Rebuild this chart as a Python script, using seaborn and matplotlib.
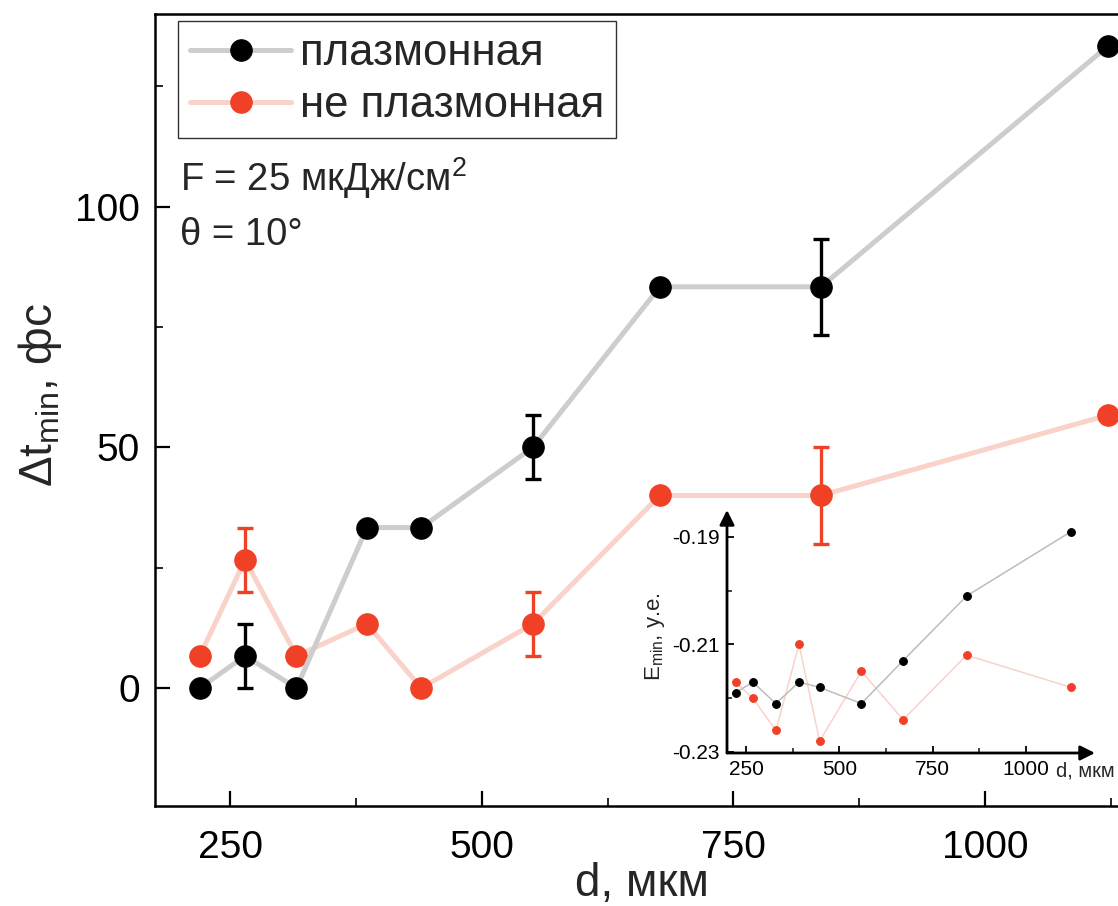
import matplotlib
matplotlib.use("Agg")
import matplotlib.pyplot as plt
from matplotlib.ticker import MultipleLocator
import seaborn as sns
import pandas as pd

# --- main panel: minimum delay vs thickness ---
d_main = [220, 265, 316, 386, 440, 551, 677, 837, 1122]
dt_plasmon = [0.0, 6.67, 0.0, 33.33, 33.33, 50.0, 83.33, 83.33, 133.33]
dt_nonplasmon = [6.67, 26.67, 6.67, 13.33, 0.0, 13.33, 40.0, 40.0, 56.67]

# error bars (only some points carry them)
err_d = [265, 551, 837]
err_plasmon_y = [6.67, 50.0, 83.33]
err_plasmon = [6.67, 6.67, 10.0]
err_nonplasmon_y = [26.67, 13.33, 40.0]
err_nonplasmon = [6.67, 6.67, 10.0]

# --- inset: minimum field vs thickness ---
d_inset = [222, 268, 330, 392, 447, 559, 671, 841, 1121]
e_plasmon = [-0.2190, -0.2170, -0.2210, -0.2170, -0.2180, -0.2210, -0.2130, -0.2010, -0.1890]
e_nonplasmon = [-0.2170, -0.2200, -0.2260, -0.2100, -0.2280, -0.2150, -0.2240, -0.2120, -0.2180]

labels = ["плазмонная", "не плазмонная"]

sns.set_theme(style="ticks")
plt.rcParams["font.family"] = ["Liberation Sans", "DejaVu Sans"]
plt.rcParams["mathtext.fontset"] = "custom"
plt.rcParams["mathtext.rm"] = "Liberation Sans"
plt.rcParams["mathtext.it"] = "Liberation Sans:italic"

BLACK = "#000000"
GREY_LINE = "#cdcdcd"
RED = "#f04026"
PINK_LINE = "#f9d3ca"

W, H = 1118, 906
fig = plt.figure(figsize=(W / 100, H / 100), dpi=100)


def box(l, t, r, b):
    return [l / W, 1 - b / H, (r - l) / W, (b - t) / H]


ax = fig.add_axes(box(155, 14, 1130, 806))

df = pd.DataFrame({"d": d_main, labels[0]: dt_plasmon, labels[1]: dt_nonplasmon})

sns.lineplot(data=df, x="d", y=labels[1], ax=ax, sort=False, errorbar=None,
             color=PINK_LINE, lw=3.6, marker="o", markersize=15.5,
             mfc=RED, mec=RED, label=labels[1], zorder=2)
sns.lineplot(data=df, x="d", y=labels[0], ax=ax, sort=False, errorbar=None,
             color=GREY_LINE, lw=3.6, marker="o", markersize=15.5,
             mfc=BLACK, mec=BLACK, label=labels[0], zorder=3)

ax.errorbar(err_d, err_nonplasmon_y, yerr=err_nonplasmon, fmt="none",
            ecolor=RED, elinewidth=2.4, capsize=6, capthick=2.4, zorder=4)
ax.errorbar(err_d, err_plasmon_y, yerr=err_plasmon, fmt="none",
            ecolor=BLACK, elinewidth=2.4, capsize=6, capthick=2.4, zorder=4)

ax.set_xlim(175.5, 1144)
ax.set_ylim(-24.5, 140)
ax.xaxis.set_major_locator(MultipleLocator(250))
ax.xaxis.set_minor_locator(MultipleLocator(125))
ax.yaxis.set_major_locator(MultipleLocator(50))
ax.yaxis.set_minor_locator(MultipleLocator(25))
ax.set_xlabel("")
ax.set_ylabel("")
ax.tick_params(axis="both", which="major", direction="in", length=11, width=1.6,
               labelsize=28, colors="black")
ax.tick_params(axis="both", which="minor", direction="in", length=5.5, width=1.4)
ax.tick_params(axis="y", which="major", pad=11)
ax.tick_params(axis="x", which="major", pad=17)
for s in ax.spines.values():
    s.set_linewidth(1.8)
    s.set_color("black")

handles, lbls = ax.get_legend_handles_labels()
order = [lbls.index(labels[0]), lbls.index(labels[1])]
leg = ax.legend([handles[i] for i in order], [lbls[i] for i in order],
                loc="upper left",
                bbox_to_anchor=((178 - 155) / 975, (806 - 21) / 792),
                borderaxespad=0, fontsize=31.5, frameon=True, fancybox=False,
                framealpha=1, edgecolor="#333333", handlelength=2.3,
                handletextpad=0.2, labelspacing=0.25, borderpad=0.28)
leg.get_frame().set_linewidth(1.0)

fig.text(180 / W, 1 - 178 / H, "F = 25 мкДж/см$^{\\mathregular{2}}$", fontsize=27.5,
         ha="left", va="center")
fig.text(180 / W, 1 - 235 / H, "θ = 10°", fontsize=27.5, ha="left", va="center")

fig.text(40 / W, 1 - 395 / H, "Δt$_{\\mathregular{min}}$, фс", fontsize=33,
         rotation=90, ha="center", va="center")
fig.text(642 / W, 1 - 884 / H, "d, мкм", fontsize=33, ha="center", va="center")

# --- inset ---
axi = fig.add_axes(box(727, 510, 1095, 753))
axi.patch.set_alpha(0)
sns.lineplot(x=d_inset, y=e_nonplasmon, ax=axi, sort=False, errorbar=None,
             color=PINK_LINE, lw=1.1, marker="o", markersize=5.6,
             mfc=RED, mec=RED, zorder=2)
sns.lineplot(x=d_inset, y=e_plasmon, ax=axi, sort=False, errorbar=None,
             color="#bdbdbd", lw=1.1, marker="o", markersize=5.6,
             mfc=BLACK, mec=BLACK, zorder=3)
axi.set_xlim(199, 1185)
axi.set_ylim(-0.2302, -0.185)
axi.set_xticks([250, 500, 750, 1000])
axi.set_xticks([375, 625, 875], minor=True)
axi.set_yticks([-0.23, -0.21, -0.19])
axi.set_yticks([-0.22, -0.20], minor=True)
axi.set_yticklabels(["-0.23", "-0.21", "-0.19"])
for s in axi.spines.values():
    s.set_visible(False)
axi.tick_params(axis="both", which="major", direction="in", length=5, width=1.3,
                labelsize=15, colors="black")
axi.tick_params(axis="both", which="minor", direction="in", length=3.5, width=1.2)
axi.tick_params(axis="y", which="major", pad=5)
axi.tick_params(axis="x", which="major", pad=5)
axi.set_xlabel("")
axi.set_ylabel("")
arrow = dict(arrowstyle="-|>", color="black", lw=2.0, mutation_scale=22,
             shrinkA=0, shrinkB=0)
axi.annotate("", xy=(1.0, 0.0), xytext=(0.0, 0.0), xycoords="axes fraction",
             textcoords="axes fraction", arrowprops=arrow, annotation_clip=False)
axi.annotate("", xy=(0.0, 1.0), xytext=(0.0, 0.0), xycoords="axes fraction",
             textcoords="axes fraction", arrowprops=arrow, annotation_clip=False)
fig.text(1056 / W, 1 - 771 / H, "d, мкм", fontsize=14.5, ha="left", va="center")
fig.text(655 / W, 1 - 637 / H, "E$_{\\mathregular{min}}$, у.е.", fontsize=16,
         rotation=90, ha="center", va="center")

fig.savefig("out.png", dpi=100)
